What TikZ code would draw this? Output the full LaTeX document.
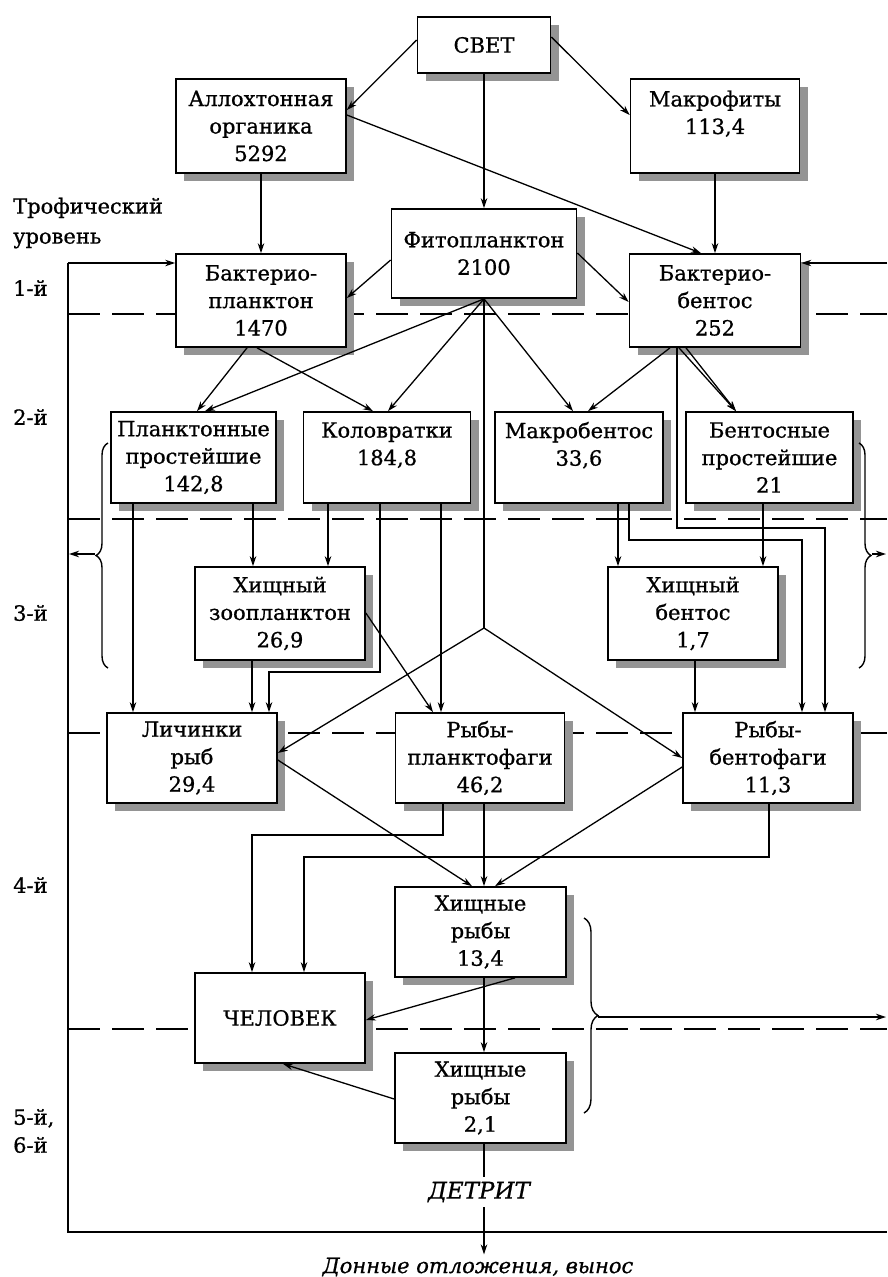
\documentclass[tikz,border=0pt]{standalone}
\usepackage{fontspec}
\setmainfont{DejaVu Serif}[FakeBold=0.8]
\usetikzlibrary{arrows.meta,shadows,decorations.pathreplacing,calc}
\begin{document}
\begin{tikzpicture}[x=1pt,y=-1pt,
  box/.style={draw, line width=1.7pt, fill=white, inner sep=0pt, align=center,
    font=\fontsize{21}{27.5}\selectfont,
    drop shadow={shadow xshift=8pt, shadow yshift=-8pt, fill=black!42, opacity=1}},
  conn/.style={line width=1.3pt, -{Stealth[length=10pt,width=6.5pt]}},
  ln/.style={line width=1.3pt},
  lvl/.style={anchor=west, inner sep=0pt, font=\fontsize{21}{28}\selectfont, align=left},
  dashln/.style={line width=1.6pt, dash pattern=on 32pt off 12pt},
  brc/.style={line width=1.4pt, decorate, decoration={brace, amplitude=#1}},
  brc/.default=12pt
]
\useasboundingbox (0,0) rectangle (887,1277);

% trophic level boundaries
\draw[dashln] (68,314) -- (887,314);
\draw[dashln] (68,519) -- (887,519);
\draw[dashln] (68,733) -- (887,733);
\draw[dashln] (68,1029) -- (887,1029);

% frame
\coordinate (ltop) at (68,263);
\coordinate (rtop) at (887,263);
\coordinate (lbot) at (68,1232);
\coordinate (rbot) at (887,1232);
\coordinate (lmid) at (69,554);
\coordinate (rmid) at (886,554);
\coordinate (rlow) at (886,1017);
\coordinate (dtop) at (484,628);
\draw[ln] (ltop) -- (lbot) -- (rbot);

% labels
\node[lvl, font=\fontsize{21}{30}\selectfont] (tl) at (13,223) {Трофический\\уровень};
\node[lvl] (l1) at (13,288) {1-й};
\node[lvl] (l2) at (13,417) {2-й};
\node[lvl] (l3) at (13,613) {3-й};
\node[lvl] (l4) at (13,885) {4-й};
\node[lvl] (l56) at (13,1131) {5-й,\\6-й};

% boxes
\node[box, minimum width=133pt, minimum height=56pt] (svet) at (484,45) {СВЕТ};
\node[box, minimum width=170pt, minimum height=94pt] (allo) at (261,126) {Аллохтонная\\органика\\5292};
\node[box, minimum width=169pt, minimum height=94pt] (makro) at (715,126) {Макрофиты\\113,4\\\mbox{}};
\node[box, minimum width=185pt, minimum height=89pt] (fito) at (484,253.5) {Фитопланктон\\2100};
\node[box, minimum width=170pt, minimum height=93pt] (bpl) at (261,300.5) {Бактерио-\\планктон\\1470};
\node[box, minimum width=171pt, minimum height=93pt] (bben) at (715,300.5) {Бактерио-\\бентос\\252};
\node[box, minimum width=165pt, minimum height=91pt] (pp) at (193.5,457.5) {Планктонные\\простейшие\\142,8};
\node[box, minimum width=167pt, minimum height=91pt] (kol) at (387,457.5) {Коловратки\\184,8\\\mbox{}};
\node[box, minimum width=168pt, minimum height=91pt] (mbent) at (579,457.5) {Макробентос\\33,6\\\mbox{}};
\node[box, minimum width=167pt, minimum height=91pt] (bprost) at (769.5,457.5) {Бентосные\\простейшие\\21};
\node[box, minimum width=170pt, minimum height=93pt] (hzoo) at (280,613.5) {Хищный\\зоопланктон\\26,9};
\node[box, minimum width=170pt, minimum height=93pt] (hben) at (693,613.5) {Хищный\\бентос\\1,7};
\node[box, minimum width=170pt, minimum height=90pt] (lich) at (192,758) {Личинки\\рыб\\29,4};
\node[box, minimum width=169pt, minimum height=90pt] (rpl) at (480,758) {Рыбы-\\планктофаги\\46,2};
\node[box, minimum width=170pt, minimum height=90pt] (rben) at (768,758) {Рыбы-\\бентофаги\\11,3};
\node[box, minimum width=171pt, minimum height=90pt] (hr1) at (480.5,932) {Хищные\\рыбы\\13,4};
\node[box, minimum width=170pt, minimum height=90pt] (chel) at (280,1018) {ЧЕЛОВЕК};
\node[box, minimum width=171pt, minimum height=90pt] (hr2) at (480.5,1098) {Хищные\\рыбы\\2,1};

\node[font=\itshape\fontsize{23}{26}\selectfont, inner sep=5pt] (detr) at (479,1192) {ДЕТРИТ};
\node[font=\itshape\fontsize{21}{24}\selectfont, inner sep=3pt] (donn) at (478,1267) {Донные отложения, вынос};

% level 0 -> 1
\draw[conn] (svet.west |- 0,40) -- (allo.east |- 0,110);
\draw[conn] (svet.east |- 0,37) -- (makro.west |- 0,115);
\draw[conn] (svet.south) -- (fito.north);
\draw[conn] (allo.south) -- (bpl.north);
\draw[conn] (makro.south) -- (bben.north);
\draw[conn] (allo.east |- 0,115) -- (bben.north -| 701,0);
\draw[conn] (fito.west |- 0,260) -- (bpl.east |- 0,298);
\draw[conn] (fito.east |- 0,253) -- (bben.west |- 0,302);
\draw[conn] (ltop) -- (bpl.west |- ltop);
\draw[conn] (rtop) -- (bben.east |- rtop);

% level 1 -> 2
\draw[conn] (bpl.south -| 247,0) -- (pp.north -| 197,0);
\draw[conn] (bpl.south -| 257,0) -- (kol.north -| 373,0);
\draw[conn] (fito.south) -- (pp.north -| 205,0);
\draw[conn] (fito.south) -- (kol.north -| 388,0);
\draw[conn] (fito.south) -- (mbent.north -| 573,0);
\draw[ln] (fito.south) -- (dtop);
\draw[conn] (bben.south -| 670,0) -- (mbent.north -| 588,0);
\draw[conn] (bben.south -| 679,0) -- (bprost.north -| 736,0);
\draw[conn] (bben.south -| 686,0) -- (bprost.north -| 736,0);
\draw[conn] (bben.south -| 677,0) |- (825,528) -- (rben.north -| 825,0);

% level 2 -> 3
\draw[conn] (pp.south -| 133,0) -- (lich.north -| 133,0);
\draw[conn] (pp.south -| 253,0) -- (hzoo.north -| 253,0);
\draw[conn] (kol.south -| 328,0) -- (hzoo.north -| 328,0);
\draw[conn] (kol.south -| 380,0) |- (269,672) -- (lich.north -| 269,0);
\draw[conn] (kol.south -| 441,0) -- (rpl.north -| 441,0);
\draw[conn] (mbent.south -| 618,0) -- (hben.north -| 618,0);
\draw[conn] (mbent.south -| 629,0) |- (802,540) -- (rben.north -| 802,0);
\draw[conn] (bprost.south -| 763,0) -- (hben.north -| 763,0);

% level 3 -> 4
\draw[conn] (hzoo.south -| 252,0) -- (lich.north -| 252,0);
\draw[conn] (hzoo.east |- 0,613) -- (rpl.north -| 433,0);
\draw[conn] (hben.south -| 695,0) -- (rben.north -| 695,0);
\draw[conn] (dtop) -- (lich.east |- 0,753);
\draw[conn] (dtop) -- (rben.west |- 0,758);

% level 4 -> 5
\draw[conn] (lich.east |- 0,760) -- (hr1.north -| 472,0);
\draw[conn] (rben.west |- 0,767) -- (hr1.north -| 495,0);
\draw[conn] (rpl.south -| 484,0) -- (hr1.north -| 484,0);
\draw[conn] (rpl.south -| 443,0) |- (252,835) -- (chel.north -| 252,0);
\draw[conn] (rben.south -| 769,0) |- (304,857) -- (chel.north -| 304,0);
\draw[conn] (hr1.south -| 515,0) -- (chel.east |- 0,1020);
\draw[conn] (hr1.south -| 484,0) -- (hr2.north -| 484,0);
\draw[conn] (hr2.west |- 0,1099) -- (chel.south -| 283,0);
\draw[ln] (hr2.south -| 484,0) -- (detr.north -| 484,0);
\draw[conn] (detr.south -| 484,0) -- (donn.north -| 484,0);

% braces
\draw[brc] (108,668) -- (108,443);
\draw[conn] (95,554) -- (lmid);
\draw[brc] (859,443) -- (859,668);
\draw[conn] (872,554) -- (rmid);
\draw[brc=14pt] (584,918) -- (584,1113);
\draw[conn] (598,1017) -- (rlow);
\end{tikzpicture}
\end{document}
